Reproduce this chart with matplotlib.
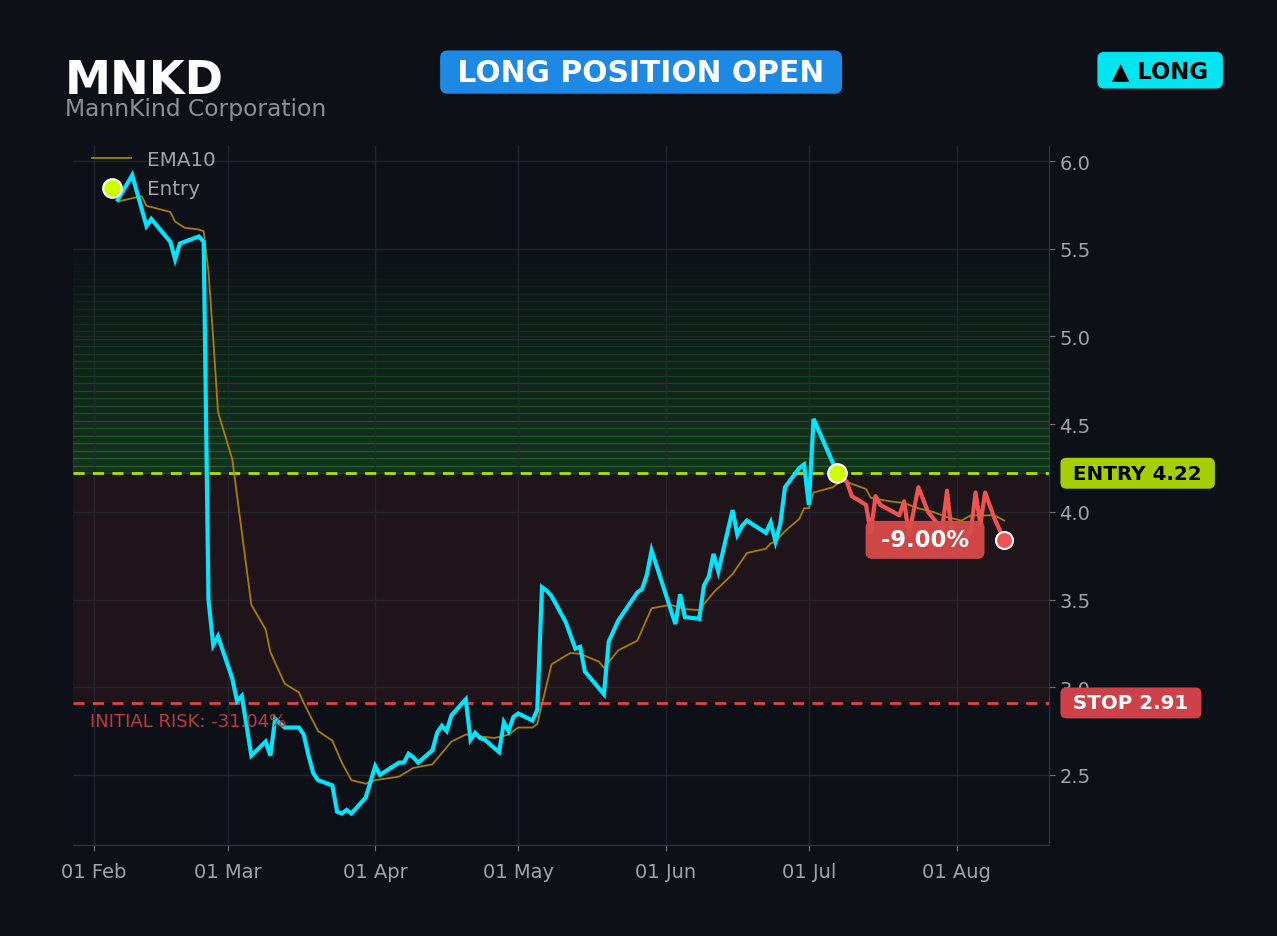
import matplotlib
matplotlib.use('Agg')
import matplotlib.pyplot as plt
import matplotlib.dates as mdates
import matplotlib.ticker as mticker
import pandas as pd

# ---- data ----
ticker = 'MNKD'
company = 'MannKind Corporation'

price_dates = ['2025-02-06', '2025-02-09', '2025-02-12', '2025-02-13', '2025-02-17', '2025-02-18',
               '2025-02-19', '2025-02-23', '2025-02-24', '2025-02-25', '2025-02-26', '2025-02-27',
               '2025-03-02', '2025-03-03', '2025-03-04', '2025-03-06', '2025-03-09', '2025-03-10',
               '2025-03-11', '2025-03-13', '2025-03-16', '2025-03-17', '2025-03-18', '2025-03-19',
               '2025-03-20', '2025-03-23', '2025-03-24', '2025-03-25', '2025-03-26', '2025-03-27',
               '2025-03-30', '2025-04-01', '2025-04-02', '2025-04-06', '2025-04-07', '2025-04-08',
               '2025-04-09', '2025-04-10', '2025-04-13', '2025-04-14', '2025-04-15', '2025-04-16',
               '2025-04-17', '2025-04-20', '2025-04-21', '2025-04-22', '2025-04-23', '2025-04-24',
               '2025-04-27', '2025-04-28', '2025-04-29', '2025-04-30', '2025-05-01', '2025-05-04',
               '2025-05-05', '2025-05-06', '2025-05-07', '2025-05-08', '2025-05-11', '2025-05-13',
               '2025-05-14', '2025-05-15', '2025-05-19', '2025-05-20', '2025-05-22', '2025-05-26',
               '2025-05-27', '2025-05-28', '2025-05-29', '2025-06-03', '2025-06-04', '2025-06-05',
               '2025-06-08', '2025-06-09', '2025-06-10', '2025-06-11', '2025-06-12', '2025-06-15',
               '2025-06-16', '2025-06-17', '2025-06-18', '2025-06-22', '2025-06-23', '2025-06-24',
               '2025-06-25', '2025-06-26', '2025-06-29', '2025-06-30', '2025-07-01', '2025-07-02',
               '2025-07-07', '2025-07-09', '2025-07-10', '2025-07-13', '2025-07-14', '2025-07-15',
               '2025-07-16', '2025-07-20', '2025-07-21', '2025-07-22', '2025-07-24', '2025-07-26',
               '2025-07-29', '2025-07-30', '2025-07-31', '2025-08-02', '2025-08-04', '2025-08-05',
               '2025-08-06', '2025-08-07', '2025-08-09', '2025-08-11']
price_vals = [5.78, 5.92, 5.63, 5.67, 5.54, 5.44,
              5.53, 5.57, 5.54, 3.50, 3.24, 3.29,
              3.05, 2.92, 2.95, 2.61, 2.69, 2.61,
              2.82, 2.77, 2.77, 2.73, 2.61, 2.51,
              2.47, 2.44, 2.29, 2.28, 2.30, 2.28,
              2.37, 2.55, 2.50, 2.57, 2.57, 2.62,
              2.60, 2.57, 2.64, 2.74, 2.78, 2.75,
              2.84, 2.93, 2.70, 2.74, 2.71, 2.70,
              2.63, 2.80, 2.75, 2.83, 2.85, 2.81,
              2.87, 3.57, 3.55, 3.52, 3.37, 3.22,
              3.23, 3.09, 2.96, 3.26, 3.38, 3.54,
              3.56, 3.64, 3.78, 3.36, 3.53, 3.40,
              3.39, 3.58, 3.63, 3.76, 3.66, 4.01,
              3.87, 3.92, 3.95, 3.88, 3.94, 3.83,
              3.93, 4.14, 4.25, 4.27, 4.04, 4.53,
              4.22, 4.17, 4.09, 4.04, 3.88, 4.09,
              4.04, 3.98, 4.06, 3.87, 4.14, 4.00,
              3.90, 4.12, 3.88, 3.82, 3.89, 4.11,
              3.93, 4.11, 3.96, 3.84]

ema_dates = ['2025-02-06', '2025-02-11', '2025-02-12', '2025-02-17', '2025-02-18', '2025-02-20',
             '2025-02-23', '2025-02-24', '2025-02-25', '2025-02-26', '2025-02-27', '2025-03-02',
             '2025-03-06', '2025-03-09', '2025-03-10', '2025-03-13', '2025-03-16', '2025-03-17',
             '2025-03-20', '2025-03-23', '2025-03-25', '2025-03-27', '2025-03-30', '2025-04-01',
             '2025-04-06', '2025-04-09', '2025-04-13', '2025-04-17', '2025-04-20', '2025-04-23',
             '2025-04-26', '2025-04-29', '2025-05-01', '2025-05-04', '2025-05-05', '2025-05-08',
             '2025-05-11', '2025-05-12', '2025-05-14', '2025-05-18', '2025-05-19', '2025-05-22',
             '2025-05-26', '2025-05-29', '2025-06-02', '2025-06-05', '2025-06-08', '2025-06-11',
             '2025-06-15', '2025-06-18', '2025-06-22', '2025-06-23', '2025-06-24', '2025-06-26',
             '2025-06-29', '2025-06-30', '2025-07-01', '2025-07-02', '2025-07-06', '2025-07-08',
             '2025-07-09', '2025-07-13', '2025-07-14', '2025-07-18', '2025-07-21', '2025-07-24',
             '2025-07-27', '2025-07-30', '2025-08-02', '2025-08-04', '2025-08-09', '2025-08-11']
ema_vals = [5.77, 5.80, 5.745, 5.71, 5.655, 5.62,
            5.61, 5.60, 5.37, 4.99, 4.57, 4.30,
            3.47, 3.33, 3.20, 3.02, 2.97, 2.91,
            2.75, 2.695, 2.57, 2.47, 2.45, 2.47,
            2.49, 2.54, 2.56, 2.69, 2.73, 2.72,
            2.71, 2.73, 2.77, 2.77, 2.79, 3.13,
            3.18, 3.195, 3.19, 3.145, 3.11, 3.21,
            3.265, 3.45, 3.47, 3.445, 3.44, 3.54,
            3.645, 3.765, 3.79, 3.82, 3.83, 3.89,
            3.96, 4.02, 4.02, 4.11, 4.14, 4.18,
            4.17, 4.13, 4.08, 4.06, 4.05, 4.02,
            4.00, 3.97, 3.95, 3.98, 3.98, 3.95]

entry_date = '2025-07-07'
entry_price = 4.22
stop_price = 2.91
target_price = 5.50
pnl_pct = -9.00
risk_pct = -31.04

# ---- colours ----
bg = '#0d1117'
cyan = '#00e5ff'
red = '#ef5350'
lime = '#ccff00'
ema_col = '#b8860b'
txt_gray = '#a0a4aa'

price = pd.Series(price_vals, index=pd.to_datetime(price_dates))
ema = pd.Series(ema_vals, index=pd.to_datetime(ema_dates))
entry_dt = pd.Timestamp(entry_date)
before = price[price.index <= entry_dt]
after = price[price.index >= entry_dt]

fig = plt.figure(figsize=(12.77, 9.37), dpi=100, facecolor=bg)
ax = fig.add_axes([0.0572, 0.0971, 0.7643, 0.746])
ax.set_facecolor(bg)

# profit zone gradient (entry -> target)
n_bands = 30
h = (target_price - entry_price) / n_bands
for i in range(n_bands):
    a = 0.19 * (1 - i / n_bands)
    ax.axhspan(entry_price + i * h, entry_price + (i + 1) * h, color='#2fbf3a', alpha=a, lw=1, zorder=0)
# risk zone
ax.axhspan(stop_price, entry_price, color='#ef4444', alpha=0.08, lw=0, zorder=0)

ax.axhline(entry_price, color=lime, ls='--', lw=2, alpha=0.85, dashes=(4, 3), zorder=2)
ax.axhline(stop_price, color='#e04246', ls='--', lw=2, dashes=(4, 3), zorder=2)

ax.plot(ema.index, ema.values, color=ema_col, lw=1.3, alpha=0.9, label='EMA10', zorder=3)
ax.plot(before.index, before.values, color=cyan, lw=3, zorder=4, solid_joinstyle='miter')
ax.plot(after.index, after.values, color=red, lw=3, zorder=4)

ax.scatter([entry_dt], [entry_price], s=180, color=lime, edgecolor='white', lw=1.5, zorder=6, label='Entry')
ax.scatter([after.index[-1]], [after.values[-1]], s=150, color=red, edgecolor='white', lw=1.5, zorder=6)

# pnl label
ax.annotate(f' {pnl_pct:.2f}% ', xy=(after.index[-1], after.values[-1]), xytext=(-57, 0),
            textcoords='offset points', ha='center', va='center', color='white',
            fontsize=16.3, fontweight='bold', zorder=7,
            bbox=dict(boxstyle='round,pad=0.33,rounding_size=0.3', fc='#d94a4a', ec='none', alpha=0.95))

# right side labels
ax.annotate(f' ENTRY {entry_price:.2f} ', xy=(1, entry_price), xycoords=('axes fraction', 'data'),
            xytext=(12.5, 0), textcoords='offset points', ha='left', va='center', color='black',
            fontsize=14.3, fontweight='bold', annotation_clip=False, zorder=8,
            bbox=dict(boxstyle='round,pad=0.3,rounding_size=0.3', fc=lime, ec='none', alpha=0.8))
ax.annotate(f' STOP {stop_price:.2f} ', xy=(1, stop_price), xycoords=('axes fraction', 'data'),
            xytext=(12.5, 0), textcoords='offset points', ha='left', va='center', color='white',
            fontsize=14.3, fontweight='bold', annotation_clip=False, zorder=8,
            bbox=dict(boxstyle='round,pad=0.3,rounding_size=0.3', fc='#cf4148', ec='none'))

ax.text(0.0174, stop_price - 0.1, f'INITIAL RISK: {risk_pct:.2f}%', transform=ax.get_yaxis_transform(),
        color='#c0393b', fontsize=13, va='center', ha='left', zorder=5)

# axes styling
ax.set_xlim(pd.Timestamp('2025-01-27 14:00'), pd.Timestamp('2025-08-20 10:00'))
ax.set_ylim(2.10, 6.086)
ax.xaxis.set_major_locator(mdates.MonthLocator())
ax.xaxis.set_major_formatter(mdates.DateFormatter('%d %b'))
ax.yaxis.set_major_locator(mticker.MultipleLocator(0.5))
ax.yaxis.set_major_formatter(mticker.FormatStrFormatter('%.1f'))
ax.yaxis.tick_right()
ax.tick_params(colors=txt_gray, labelsize=14, length=4, color='#6b7079')
ax.tick_params(axis='x', pad=8)
ax.grid(True, color='#242a32', lw=1, alpha=0.8)
ax.set_axisbelow(True)
for side in ['bottom', 'right']:
    ax.spines[side].set_color('#30363d')
ax.spines['top'].set_visible(False)
ax.spines['left'].set_visible(False)

leg = ax.legend(loc='upper left', bbox_to_anchor=(0.011, 1.006), borderaxespad=0, frameon=False,
                fontsize=14.3, labelcolor=txt_gray, scatterpoints=1)

# header
fig.text(0.051, 0.8994, ticker, color='white', fontsize=33.3, fontweight='bold', va='baseline')
fig.text(0.051, 0.8762, company, color='#8b8f96', fontsize=16.8, va='baseline')
fig.text(0.502, 0.922, ' LONG POSITION OPEN ', color='white', fontsize=21.4, fontweight='bold',
         ha='center', va='center',
         bbox=dict(boxstyle='round,pad=0.24,rounding_size=0.25', fc='#1e88e5', ec='none'))
fig.text(0.9085, 0.924, ' \u25b2 LONG ', color='black', fontsize=16.4, fontweight='bold',
         ha='center', va='center',
         bbox=dict(boxstyle='round,pad=0.3,rounding_size=0.3', fc='#00e5f0', ec='none'))

fig.savefig('out.png', dpi=100, facecolor=bg)
